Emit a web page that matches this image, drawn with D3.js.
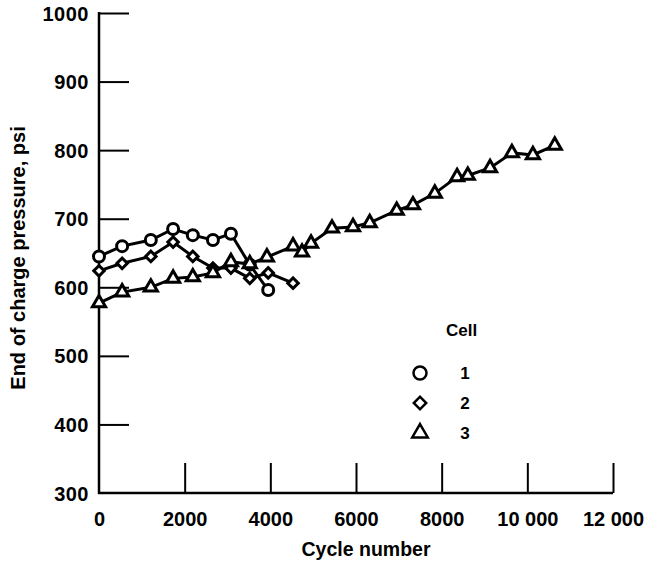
<!DOCTYPE html>
<html>
  <head>
    <script src="https://d3js.org/d3.v7.min.js"></script>
    <style>
      body { margin: 0; background: #fff; }
      text { font-family: "Liberation Sans", Arial, sans-serif; font-weight: bold; fill: #000; }
    </style>
  </head>
  <body>
    <script>

    // data (cycle number, end of charge pressure psi)
    var cell1Cycles = [0, 540, 1210, 1730, 2190, 2660, 3080, 3520, 3950];
    var cell1Psi    = [645, 660, 669, 685, 676, 669, 678, 633, 596];

    var cell2Cycles = [0, 540, 1210, 1730, 2190, 2660, 3080, 3520, 3950, 4530];
    var cell2Psi    = [624, 635, 645, 666, 645, 628, 628, 613, 621, 606];

    var cell3Cycles = [0, 540, 1210, 1730, 2190, 2660, 3080, 3520, 3920, 4530, 4740, 4950,
                       5440, 5930, 6320, 6950, 7330, 7840, 8360, 8610, 9130, 9640, 10130, 10640];
    var cell3Psi    = [577, 593, 600, 613, 615, 621, 637, 634, 644, 660, 651, 664,
                       686, 688, 694, 712, 720, 737, 761, 763, 774, 796, 793, 807];

    var xTicks = [0, 2000, 4000, 6000, 8000, 10000, 12000];
    var xTickLabels = ["0", "2000", "4000", "6000", "8000", "10 000", "12 000"];
    var yTicks = [300, 400, 500, 600, 700, 800, 900, 1000];
    var legendLabels = ["1", "2", "3"];

    var w = 650;
    var h = 564;

    var x = d3.scaleLinear().domain([0, 12000]).range([99, 613]);
    var y = d3.scaleLinear().domain([300, 1000]).range([493, 13]);

    var svg = d3.select("body").append("svg")
      .attr("width", w)
      .attr("height", h);

    // y axis, ticks pointing inward
    var yAxis = svg.append("g")
      .attr("transform", "translate(" + x(0) + ",0)")
      .call(d3.axisLeft(y).tickValues(yTicks).tickSize(-30).tickPadding(10).tickFormat(d3.format("d")));
    yAxis.select(".domain").remove();
    yAxis.selectAll("line").attr("stroke", "#000").attr("stroke-width", 2)
      .filter(function(d) { return d === 300; }).remove();
    yAxis.selectAll("text").style("font-size", "20px").style("letter-spacing", "0.5px").attr("dy", "0.35em");

    // x axis, ticks pointing up
    var xAxis = svg.append("g")
      .attr("transform", "translate(0," + y(300) + ")")
      .call(d3.axisBottom(x).tickValues(xTicks).tickSize(-30).tickPadding(19)
        .tickFormat(function(d, i) { return xTickLabels[i]; }));
    xAxis.select(".domain").remove();
    xAxis.selectAll("line").attr("stroke", "#000").attr("stroke-width", 2)
      .filter(function(d) { return d === 0; }).remove();
    xAxis.selectAll("text").style("font-size", "20px");

    // axis lines
    svg.append("line")
      .attr("x1", x(0)).attr("x2", x(0)).attr("y1", y(1000) - 1).attr("y2", y(300) + 1)
      .attr("stroke", "#000").attr("stroke-width", 2.5);
    svg.append("line")
      .attr("x1", x(0) - 1).attr("x2", x(12000)).attr("y1", y(300)).attr("y2", y(300))
      .attr("stroke", "#000").attr("stroke-width", 2.5);

    // axis titles
    svg.append("text")
      .attr("x", 366).attr("y", 556)
      .attr("text-anchor", "middle")
      .style("font-size", "19.5px")
      .text("Cycle number");
    svg.append("text")
      .attr("transform", "translate(25,258) rotate(-90)")
      .attr("text-anchor", "middle")
      .style("font-size", "20px")
      .text("End of charge pressure, psi");

    // diamond drawn as a square turned 45 degrees
    var series = [
      { cycles: cell1Cycles, psi: cell1Psi, shape: d3.symbolCircle, size: 95, rot: 0 },
      { cycles: cell2Cycles, psi: cell2Psi, shape: d3.symbolSquare, size: 55, rot: 45 },
      { cycles: cell3Cycles, psi: cell3Psi, shape: d3.symbolTriangle, size: 75, rot: 0 }
    ];

    var line = d3.line()
      .x(function(d) { return x(d[0]); })
      .y(function(d) { return y(d[1]); });

    // draw lines first, then markers on top
    series.forEach(function(s) {
      var pts = d3.zip(s.cycles, s.psi);
      svg.append("path")
        .datum(pts)
        .attr("d", line)
        .attr("fill", "none")
        .attr("stroke", "#000")
        .attr("stroke-width", 3);
    });

    series.forEach(function(s) {
      var pts = d3.zip(s.cycles, s.psi);
      svg.selectAll(null)
        .data(pts)
        .enter()
        .append("path")
        .attr("d", d3.symbol().type(s.shape).size(s.size))
        .attr("transform", function(d) {
          return "translate(" + x(d[0]) + "," + y(d[1]) + ") rotate(" + s.rot + ")";
        })
        .attr("fill", "#fff")
        .attr("stroke", "#000")
        .attr("stroke-width", 3);
    });

    // legend
    svg.append("text")
      .attr("x", 446).attr("y", 336)
      .style("font-size", "17px")
      .text("Cell");

    var legend = svg.selectAll(".legend")
      .data(series)
      .enter()
      .append("g")
      .attr("class", "legend")
      .attr("transform", function(d, i) { return "translate(420," + (373 + i * 30) + ")"; });
    legend.append("path")
      .attr("d", function(d) { return d3.symbol().type(d.shape).size(d.size * 1.4)(); })
      .attr("transform", function(d) { return "rotate(" + d.rot + ")"; })
      .attr("fill", "#fff")
      .attr("stroke", "#000")
      .attr("stroke-width", 2.5);
    legend.append("text")
      .attr("x", 45).attr("dy", "0.35em")
      .attr("text-anchor", "middle")
      .style("font-size", "17px")
      .text(function(d, i) { return legendLabels[i]; });

    </script>
  </body>
</html>
